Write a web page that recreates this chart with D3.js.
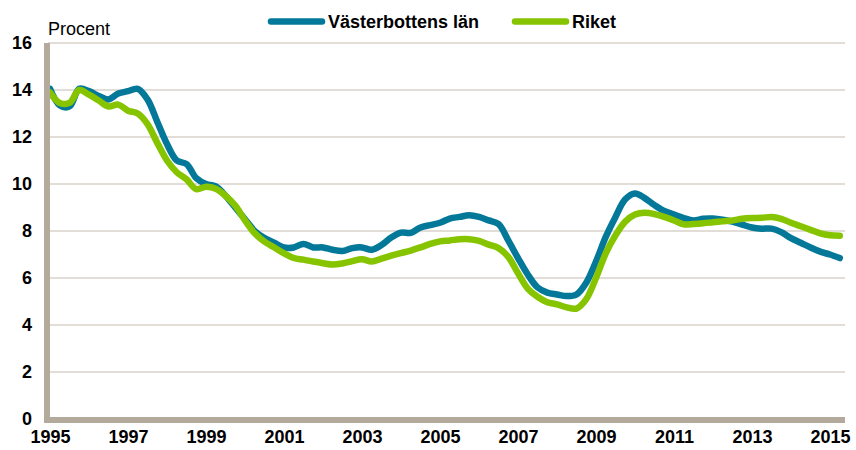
<!DOCTYPE html>
<html>
<head>
<meta charset="utf-8">
<script src="https://cdn.jsdelivr.net/npm/d3@7"></script>
<style>
  body { margin: 0; background: #fff; }
  svg { display: block; font-family: "Liberation Sans", Arial, sans-serif; }
</style>
</head>
<body>
<div id="graf"></div>
<script>
// 1. Data (kvartalsvärden, start 1995 K1)
const START_AR = 1995;
const STEG     = 0.25;

const serier = ['Västerbottens län', 'Riket'];

const vasterbotten = [
  14.05, 13.35, 13.3, 14.05, 13.95, 13.75, 13.6, 13.85, 13.95, 14.05,
  13.6, 12.65, 11.7, 11.0, 10.85, 10.25, 10.0, 9.9, 9.5, 9.0,
  8.5, 8.0, 7.7, 7.5, 7.3, 7.3, 7.45, 7.3, 7.3, 7.2,
  7.15, 7.27, 7.3, 7.2, 7.4, 7.72, 7.93, 7.92, 8.15, 8.25,
  8.35, 8.53, 8.6, 8.67, 8.6, 8.45, 8.3, 7.6, 6.85, 6.15,
  5.6, 5.38, 5.3, 5.23, 5.3, 5.8, 6.7, 7.75, 8.6, 9.35,
  9.6, 9.4, 9.1, 8.85, 8.7, 8.55, 8.45, 8.52, 8.53, 8.48,
  8.4, 8.27, 8.15, 8.1, 8.1, 7.95, 7.7, 7.5, 7.3, 7.12,
  7.0, 6.85
];

const riket = [
  13.9, 13.45, 13.45, 14.0, 13.8, 13.55, 13.3, 13.38, 13.12, 13.0,
  12.55, 11.75, 11.0, 10.5, 10.2, 9.78, 9.88, 9.8, 9.5, 9.08,
  8.45, 7.9, 7.55, 7.3, 7.05, 6.85, 6.78, 6.7, 6.63, 6.57,
  6.62, 6.72, 6.8, 6.7, 6.82, 6.95, 7.06, 7.17, 7.3, 7.45,
  7.56, 7.6, 7.65, 7.65, 7.58, 7.42, 7.27, 6.9, 6.2, 5.55,
  5.2, 4.97, 4.88, 4.75, 4.7, 5.1, 6.0, 7.05, 7.82, 8.4,
  8.7, 8.78, 8.72, 8.6, 8.45, 8.28, 8.3, 8.33, 8.37, 8.41,
  8.45, 8.52, 8.55, 8.56, 8.6, 8.52, 8.35, 8.2, 8.05, 7.9,
  7.82, 7.8
];

const ar_ticks = [1995, 1997, 1999, 2001, 2003, 2005, 2007, 2009, 2011, 2013, 2015];
const y_ticks  = [0, 2, 4, 6, 8, 10, 12, 14, 16];

// 2. Konfiguration
COLOR_SERIER = ['#037899', '#86c400'];
COLOR_GRID   = '#d8d2c8';
COLOR_AXIS   = '#b4aa9b';
ANCHO_TOTAL  = 856;
ALTO_TOTAL   = 450;

svg = d3.select('#graf').append('svg')
  .attr('width', ANCHO_TOTAL)
  .attr('height', ALTO_TOTAL);

fx = d3.scaleLinear().domain([1995, 2015]).range([50, 830]);
fy = d3.scaleLinear().domain([0, 16]).range([419, 43]);

// rutnät
svg.append('g')
  .selectAll('line')
  .data(y_ticks.filter(d => d > 0))
  .enter()
  .append('line')
  .attr('x1', 48).attr('x2', 845)
  .attr('y1', d => fy(d)).attr('y2', d => fy(d))
  .attr('stroke', COLOR_GRID)
  .attr('stroke-width', 1.3);

// y-axel
yAxis = d3.axisLeft(fy).tickValues(y_ticks).tickSize(0).tickPadding(15);
eje_y = svg.append('g').attr('transform', 'translate(47,0)').call(yAxis);
eje_y.select('.domain').remove();
eje_y.selectAll('text')
  .attr('font-size', 18).attr('font-weight', 'bold')
  .attr('font-family', '"Liberation Sans", Arial, sans-serif')
  .attr('fill', '#000')
  .attr('x', -15);

// x-axel
xAxis = d3.axisBottom(fx).tickValues(ar_ticks).tickFormat(d3.format('d')).tickSize(0).tickPadding(10);
eje_x = svg.append('g').attr('transform', 'translate(0,420)').call(xAxis);
eje_x.select('.domain').remove();
eje_x.selectAll('text')
  .attr('font-size', 18).attr('font-weight', 'bold')
  .attr('font-family', '"Liberation Sans", Arial, sans-serif')
  .attr('fill', '#000');

// linjer
tabla = [vasterbotten, riket].map((vals, k) => ({
  nombre: serier[k],
  color: COLOR_SERIER[k],
  puntos: vals.map((v, i) => ({ ar: START_AR + i * STEG, v: v }))
}));

linea = d3.line()
  .x(d => fx(d.ar))
  .y(d => fy(d.v))
  .curve(d3.curveCatmullRom.alpha(0.5));

svg.append('g')
  .selectAll('path')
  .data(tabla)
  .enter()
  .append('path')
  .attr('d', d => linea(d.puntos))
  .attr('fill', 'none')
  .attr('stroke', d => d.color)
  .attr('stroke-width', 6.5)
  .attr('stroke-linecap', 'round')
  .attr('stroke-linejoin', 'round');

// axellinjer (tjocka)
svg.append('line')
  .attr('x1', 47).attr('x2', 47).attr('y1', 43).attr('y2', 423)
  .attr('stroke', COLOR_AXIS).attr('stroke-width', 6);
svg.append('line')
  .attr('x1', 44).attr('x2', 845).attr('y1', 420).attr('y2', 420)
  .attr('stroke', COLOR_AXIS).attr('stroke-width', 6);

// enhet
svg.append('text')
  .attr('x', 48).attr('y', 35)
  .attr('font-size', 18)
  .attr('fill', '#000')
  .text('Procent');

// legend
leyenda = svg.append('g')
  .selectAll('g')
  .data(tabla)
  .enter()
  .append('g')
  .attr('transform', (d, i) => `translate(${[271, 515][i]},21.5)`);

leyenda.append('line')
  .attr('x1', 0).attr('x2', 51)
  .attr('stroke', d => d.color)
  .attr('stroke-width', 6.5)
  .attr('stroke-linecap', 'round');

leyenda.append('text')
  .attr('x', 57).attr('y', 6.5)
  .attr('font-size', 18).attr('font-weight', 'bold')
  .attr('fill', '#000')
  .text(d => d.nombre);
</script>
</body>
</html>
